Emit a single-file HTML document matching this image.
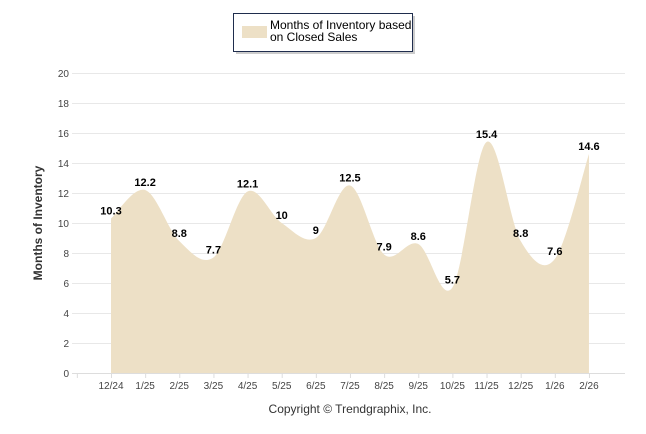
<!DOCTYPE html>
<html><head><meta charset="utf-8"><style>
body{margin:0;background:#fff;font-family:"Liberation Sans",sans-serif}
#c{position:absolute;left:0;top:0}
</style></head><body>
<svg id="c" width="646" height="434">
<g id="grid"></g>
<g id="yt"></g>
<path id="area" fill="#ede0c6"/>
<g id="xt"></g>
<g id="lbl"></g>
<text transform="translate(42,223) rotate(-90)" text-anchor="middle" font-size="12" font-weight="bold" fill="#333">Months of Inventory</text>
<text x="350" y="413" text-anchor="middle" font-size="12" fill="#333">Copyright © Trendgraphix, Inc.</text>
<g>
<rect x="236" y="16" width="179" height="38" fill="#999" opacity="0.5"/>
<rect x="233.5" y="13.5" width="179" height="38" fill="#fff" stroke="#1f2d4d"/>
<rect x="242" y="26" width="25" height="12" fill="#ede0c6"/>
<text x="270" y="29" font-size="12" fill="#000">Months of Inventory based</text>
<text x="270" y="41" font-size="12" fill="#000">on Closed Sales</text>
</g>
</svg>
<script>
const categories=["12/24","1/25","2/25","3/25","4/25","5/25","6/25","7/25","8/25","9/25","10/25","11/25","12/25","1/26","2/26"];
const values=[10.3,12.2,8.8,7.7,12.1,10,9,12.5,7.9,8.6,5.7,15.4,8.8,7.6,14.6];
const yTicks=[0,2,4,6,8,10,12,14,16,18,20];
const NS="http://www.w3.org/2000/svg";
const x0=111,dx=34.14,yB=373,yT=73,yMax=20;
const X=i=>x0+i*dx, Y=v=>yB-(v/yMax)*(yB-yT);
function mk(t,a,p){const e=document.createElementNS(NS,t);for(const k in a)e.setAttribute(k,a[k]);p.appendChild(e);return e;}
const grid=document.getElementById('grid'),yt=document.getElementById('yt'),xt=document.getElementById('xt'),lbl=document.getElementById('lbl');
yTicks.forEach(v=>{
 const l=mk('line',{x1:72,x2:625,y1:Y(v)+.5,y2:Y(v)+.5,stroke:'#e8e8e8'},grid);
 
 
 const t=mk('text',{x:69,y:Y(v)+4,'text-anchor':'end','font-size':10,fill:'#444'},yt);t.textContent=v;
 
 
});
mk('line',{x1:72,x2:625,y1:yB+.5,y2:yB+.5,stroke:'#ddd'},xt);
for(let i=-1;i<categories.length;i++){mk('line',{x1:X(i)+.5,x2:X(i)+.5,y1:yB,y2:yB+5,stroke:'#ddd'},xt);}
categories.forEach((c,i)=>{
 const t=mk('text',{x:X(i),y:yB+16,'text-anchor':'middle','font-size':10,fill:'#444'},xt);t.textContent=c;
 
 
});
const P=values.map((v,i)=>[X(i),Y(v)]);
let d=`M${P[0][0]},${yB} L${P[0][0]},${P[0][1]}`;
for(let i=0;i<P.length-1;i++){
 const p0=P[Math.max(0,i-1)],p1=P[i],p2=P[i+1],p3=P[Math.min(P.length-1,i+2)];
 const k=1/6;
 d+=` C${p1[0]+(p2[0]-p0[0])*k},${p1[1]+(p2[1]-p0[1])*k} ${p2[0]-(p3[0]-p1[0])*k},${p2[1]-(p3[1]-p1[1])*k} ${p2[0]},${p2[1]}`;
}
d+=` L${P[P.length-1][0]},${yB} Z`;
document.getElementById('area').setAttribute('d',d);
values.forEach((v,i)=>{
 const t=mk('text',{x:X(i),y:Y(v)-4,'text-anchor':'middle','font-size':11,'font-weight':'bold',fill:'#000'},lbl);t.textContent=v;
 
 
});
</script>
</body></html>
